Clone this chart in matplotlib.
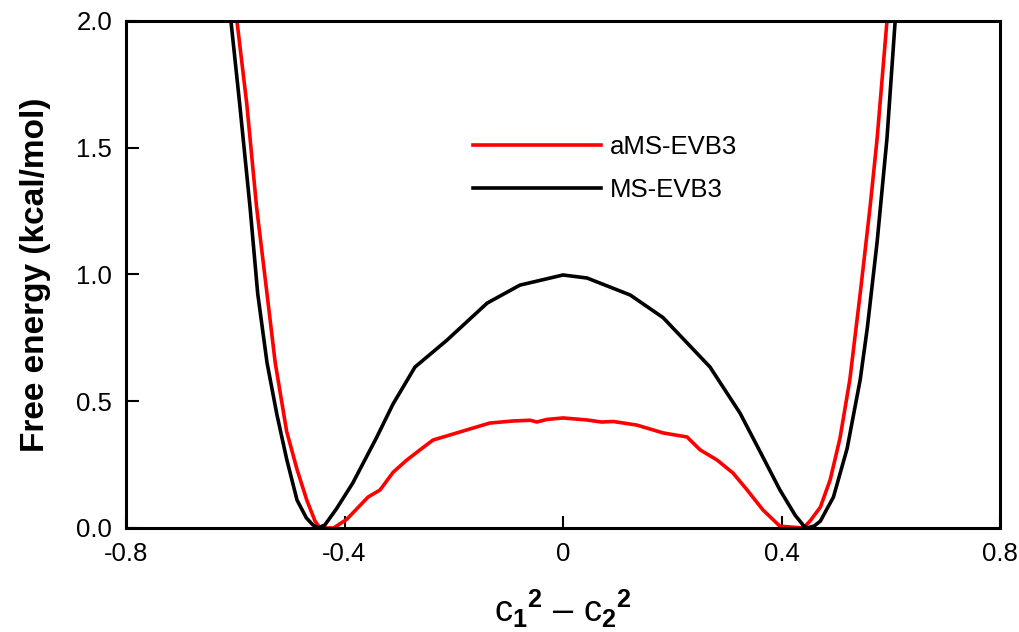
"""Free energy profile along c1^2 - c2^2 for aMS-EVB3 vs MS-EVB3."""

import matplotlib
import matplotlib.pyplot as plt

matplotlib.use("Agg")

# MS-EVB3 (black)
ms_x = [-0.615, -0.608, -0.592, -0.573, -0.559, -0.542, -0.524, -0.506, -0.487, -0.470, -0.458,
        -0.448, -0.436, -0.415, -0.385, -0.342, -0.311, -0.298, -0.271, -0.213, -0.139,
        -0.079, 0.0, 0.044, 0.123, 0.183, 0.269, 0.324, 0.361, 0.397, 0.425, 0.440, 0.447,
        0.460, 0.471, 0.495, 0.520, 0.544, 0.557, 0.575, 0.593, 0.608, 0.615]
ms_y = [2.15, 2.0, 1.673, 1.265, 0.925, 0.653, 0.449, 0.272, 0.110, 0.040, 0.012,
        0.0, 0.012, 0.075, 0.177, 0.354, 0.49, 0.537, 0.635, 0.74, 0.887,
        0.958, 0.998, 0.986, 0.919, 0.83, 0.635, 0.453, 0.30, 0.15, 0.05, 0.010, 0.0,
        0.008, 0.027, 0.122, 0.313, 0.585, 0.789, 1.129, 1.537, 2.0, 2.15]

# aMS-EVB3 (red)
ams_x = [-0.604, -0.597, -0.579, -0.561, -0.542, -0.527, -0.506, -0.487, -0.469, -0.454, -0.445,
         -0.420, -0.396, -0.357, -0.335, -0.311, -0.286, -0.262, -0.238, -0.213, -0.176,
         -0.134, -0.092, -0.060, -0.048, -0.030, 0.0, 0.044, 0.070, 0.092, 0.135, 0.183,
         0.227, 0.251, 0.282, 0.311, 0.337, 0.366, 0.397, 0.440, 0.452, 0.471, 0.489,
         0.507, 0.525, 0.544, 0.562, 0.575, 0.593, 0.600]
ams_y = [2.15, 2.0, 1.673, 1.265, 0.925, 0.653, 0.381, 0.231, 0.109, 0.027, 0.0,
         0.0, 0.034, 0.122, 0.150, 0.22, 0.268, 0.308, 0.347, 0.363, 0.387,
         0.414, 0.422, 0.425, 0.418, 0.428, 0.434, 0.426, 0.418, 0.420, 0.406, 0.375,
         0.359, 0.308, 0.268, 0.217, 0.15, 0.071, 0.007, 0.0, 0.027, 0.082, 0.19,
         0.354, 0.585, 0.925, 1.265, 1.537, 2.0, 2.15]

x_ticks = [-0.8, -0.4, 0.0, 0.4, 0.8]
x_labels = ["-0.8", "-0.4", "0", "0.4", "0.8"]
y_ticks = [0.0, 0.5, 1.0, 1.5, 2.0]

plt.rcParams["font.family"] = ["Liberation Sans", "DejaVu Sans"]
plt.rcParams["mathtext.fontset"] = "custom"
plt.rcParams["mathtext.rm"] = "Liberation Sans:bold"
plt.rcParams["mathtext.it"] = "Liberation Sans:bold"
plt.rcParams["mathtext.bf"] = "Liberation Sans:bold"
plt.rcParams["mathtext.default"] = "rm"

fig = plt.figure(figsize=(10.19, 6.32), dpi=100)
ax = fig.add_axes([0.1237, 0.1646, 0.8577, 0.8022])

ax.plot(ams_x, ams_y, color="#ff0000", linewidth=2.6, label="aMS-EVB3")
ax.plot(ms_x, ms_y, color="black", linewidth=2.6, label="MS-EVB3")

ax.set_xlim(-0.8, 0.8)
ax.set_ylim(0.0, 2.0)
ax.set_xticks(x_ticks)
ax.set_xticklabels(x_labels)
ax.set_yticks(y_ticks)
ax.set_yticklabels([f"{v:.1f}" for v in y_ticks])
ax.tick_params(direction="in", length=9, width=1.5, labelsize=18.5, pad=10)

for sp in ax.spines.values():
    sp.set_linewidth(2.2)

ax.set_ylabel("Free energy (kcal/mol)", fontsize=24, fontweight="bold", labelpad=18)
ax.set_xlabel("c$_1$$^2$ \u2013 c$_2$$^2$", fontsize=26, labelpad=16)

ax.legend(loc="upper left", bbox_to_anchor=(0.37, 0.82), frameon=False, fontsize=18.5,
          handlelength=5.0, handletextpad=0.35, labelspacing=0.72)

fig.savefig("out.png", dpi=100)
plt.close(fig)
